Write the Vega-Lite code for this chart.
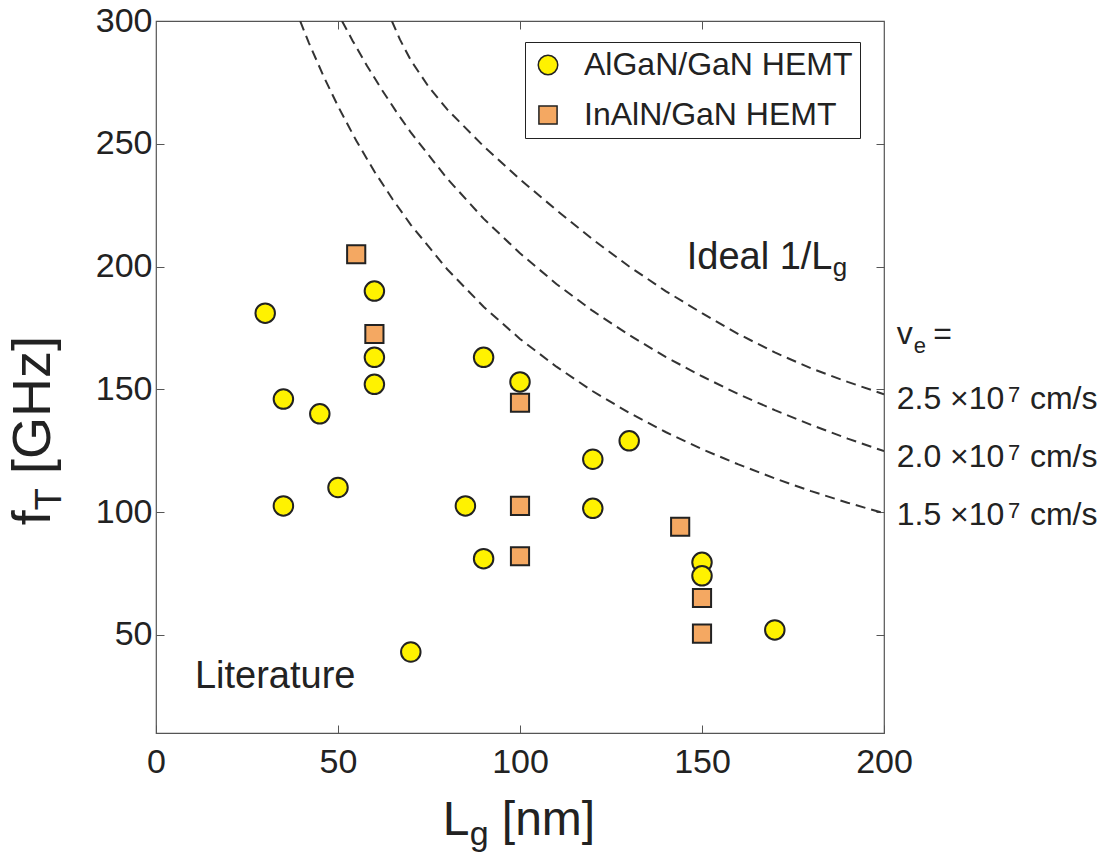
{
  "$schema": "https://vega.github.io/schema/vega-lite/v6.json",
  "width": 728,
  "height": 712,
  "autosize": {"type": "none"},
  "padding": {"left": 156, "top": 21, "right": 220, "bottom": 128},
  "background": "white",
  "config": {
    "font": "Liberation Sans",
    "view": {"stroke": "#555", "strokeWidth": 1.2},
    "axis": {"grid": false, "domain": false, "tickColor": "#555", "tickSize": -8, "tickWidth": 1, "labelFont": "Liberation Sans", "labelFontSize": 34, "labelColor": "#222", "title": null, "labelFlush": false, "labelOverlap": false, "labelBound": false}
  },
  "datasets": {
    "points": [
      {"Lg": 30, "fT": 181, "type": "AlGaN/GaN HEMT"},
      {"Lg": 60, "fT": 190, "type": "AlGaN/GaN HEMT"},
      {"Lg": 60, "fT": 163, "type": "AlGaN/GaN HEMT"},
      {"Lg": 60, "fT": 152, "type": "AlGaN/GaN HEMT"},
      {"Lg": 35, "fT": 146, "type": "AlGaN/GaN HEMT"},
      {"Lg": 45, "fT": 140, "type": "AlGaN/GaN HEMT"},
      {"Lg": 90, "fT": 163, "type": "AlGaN/GaN HEMT"},
      {"Lg": 100, "fT": 153, "type": "AlGaN/GaN HEMT"},
      {"Lg": 50, "fT": 110, "type": "AlGaN/GaN HEMT"},
      {"Lg": 35, "fT": 102.5, "type": "AlGaN/GaN HEMT"},
      {"Lg": 85, "fT": 102.5, "type": "AlGaN/GaN HEMT"},
      {"Lg": 130, "fT": 129, "type": "AlGaN/GaN HEMT"},
      {"Lg": 120, "fT": 121.5, "type": "AlGaN/GaN HEMT"},
      {"Lg": 120, "fT": 101.5, "type": "AlGaN/GaN HEMT"},
      {"Lg": 90, "fT": 81, "type": "AlGaN/GaN HEMT"},
      {"Lg": 150, "fT": 79.5, "type": "AlGaN/GaN HEMT"},
      {"Lg": 150, "fT": 74, "type": "AlGaN/GaN HEMT"},
      {"Lg": 170, "fT": 52, "type": "AlGaN/GaN HEMT"},
      {"Lg": 70, "fT": 43, "type": "AlGaN/GaN HEMT"},
      {"Lg": 55, "fT": 205, "type": "InAlN/GaN HEMT"},
      {"Lg": 60, "fT": 172.5, "type": "InAlN/GaN HEMT"},
      {"Lg": 100, "fT": 144.5, "type": "InAlN/GaN HEMT"},
      {"Lg": 100, "fT": 102.5, "type": "InAlN/GaN HEMT"},
      {"Lg": 100, "fT": 82, "type": "InAlN/GaN HEMT"},
      {"Lg": 144, "fT": 94, "type": "InAlN/GaN HEMT"},
      {"Lg": 150, "fT": 65, "type": "InAlN/GaN HEMT"},
      {"Lg": 150, "fT": 50.5, "type": "InAlN/GaN HEMT"}
    ],
    "curves": [
      {"Lg": 39.6, "fT": 300, "ve": "1.5"},
      {"Lg": 42, "fT": 291.1, "ve": "1.5"},
      {"Lg": 46, "fT": 277.6, "ve": "1.5"},
      {"Lg": 50, "fT": 265.3, "ve": "1.5"},
      {"Lg": 55, "fT": 251.3, "ve": "1.5"},
      {"Lg": 60, "fT": 238.7, "ve": "1.5"},
      {"Lg": 65, "fT": 227.4, "ve": "1.5"},
      {"Lg": 70, "fT": 217.0, "ve": "1.5"},
      {"Lg": 80, "fT": 198.9, "ve": "1.5"},
      {"Lg": 90, "fT": 183.6, "ve": "1.5"},
      {"Lg": 100, "fT": 170.5, "ve": "1.5"},
      {"Lg": 110, "fT": 159.2, "ve": "1.5"},
      {"Lg": 120, "fT": 149.2, "ve": "1.5"},
      {"Lg": 130, "fT": 140.4, "ve": "1.5"},
      {"Lg": 140, "fT": 132.6, "ve": "1.5"},
      {"Lg": 150, "fT": 125.6, "ve": "1.5"},
      {"Lg": 160, "fT": 119.4, "ve": "1.5"},
      {"Lg": 170, "fT": 113.7, "ve": "1.5"},
      {"Lg": 180, "fT": 108.5, "ve": "1.5"},
      {"Lg": 190, "fT": 103.8, "ve": "1.5"},
      {"Lg": 200, "fT": 99.5, "ve": "1.5"},
      {"Lg": 51.1, "fT": 300, "ve": "2.0"},
      {"Lg": 54, "fT": 292.0, "ve": "2.0"},
      {"Lg": 58, "fT": 281.7, "ve": "2.0"},
      {"Lg": 62, "fT": 272.1, "ve": "2.0"},
      {"Lg": 66, "fT": 263.1, "ve": "2.0"},
      {"Lg": 70, "fT": 254.6, "ve": "2.0"},
      {"Lg": 80, "fT": 235.8, "ve": "2.0"},
      {"Lg": 90, "fT": 219.5, "ve": "2.0"},
      {"Lg": 100, "fT": 205.4, "ve": "2.0"},
      {"Lg": 110, "fT": 192.9, "ve": "2.0"},
      {"Lg": 120, "fT": 181.9, "ve": "2.0"},
      {"Lg": 130, "fT": 172.1, "ve": "2.0"},
      {"Lg": 140, "fT": 163.2, "ve": "2.0"},
      {"Lg": 150, "fT": 155.3, "ve": "2.0"},
      {"Lg": 160, "fT": 148.0, "ve": "2.0"},
      {"Lg": 170, "fT": 141.5, "ve": "2.0"},
      {"Lg": 180, "fT": 135.5, "ve": "2.0"},
      {"Lg": 190, "fT": 129.9, "ve": "2.0"},
      {"Lg": 200, "fT": 124.8, "ve": "2.0"},
      {"Lg": 64.8, "fT": 300, "ve": "2.5"},
      {"Lg": 67, "fT": 292.5, "ve": "2.5"},
      {"Lg": 70, "fT": 284, "ve": "2.5"},
      {"Lg": 75, "fT": 273, "ve": "2.5"},
      {"Lg": 80, "fT": 264, "ve": "2.5"},
      {"Lg": 90, "fT": 249, "ve": "2.5"},
      {"Lg": 100, "fT": 235.5, "ve": "2.5"},
      {"Lg": 110, "fT": 223, "ve": "2.5"},
      {"Lg": 120, "fT": 211, "ve": "2.5"},
      {"Lg": 130, "fT": 200, "ve": "2.5"},
      {"Lg": 140, "fT": 190, "ve": "2.5"},
      {"Lg": 150, "fT": 181, "ve": "2.5"},
      {"Lg": 160, "fT": 172.5, "ve": "2.5"},
      {"Lg": 170, "fT": 165, "ve": "2.5"},
      {"Lg": 180, "fT": 158.5, "ve": "2.5"},
      {"Lg": 190, "fT": 153, "ve": "2.5"},
      {"Lg": 200, "fT": 148, "ve": "2.5"}
    ]
  },
  "layer": [
    {
      "data": {"name": "curves"},
      "mark": {"type": "line", "strokeDash": [10, 6], "strokeWidth": 2, "color": "#333", "clip": true},
      "encoding": {
        "x": {"field": "Lg", "type": "quantitative", "scale": {"domain": [0, 200], "nice": false, "zero": false}, "axis": {"orient": "top", "values": [50, 100, 150], "labels": false}},
        "y": {"field": "fT", "type": "quantitative", "scale": {"domain": [10, 300], "nice": false, "zero": false}, "axis": {"orient": "right", "values": [50, 100, 150, 200, 250], "labels": false}},
        "detail": {"field": "ve"},
        "order": {"field": "Lg", "type": "quantitative"}
      }
    },
    {
      "data": {"name": "points"},
      "mark": {"type": "point", "filled": true, "opacity": 1, "stroke": "#222", "strokeWidth": 2},
      "encoding": {
        "x": {"field": "Lg", "type": "quantitative", "scale": {"domain": [0, 200], "nice": false, "zero": false}, "axis": {"orient": "bottom", "values": [0, 50, 100, 150, 200], "labelPadding": 20}},
        "y": {"field": "fT", "type": "quantitative", "scale": {"domain": [10, 300], "nice": false, "zero": false}, "axis": {"orient": "left", "values": [50, 100, 150, 200, 250, 300], "labelPadding": 12}},
        "color": {"field": "type", "type": "nominal", "scale": {"domain": ["AlGaN/GaN HEMT", "InAlN/GaN HEMT"], "range": ["#FFF200", "#F4A862"]},
          "legend": {"orient": "none", "legendX": 369, "legendY": 21, "title": null, "strokeColor": "#222", "fillColor": "white", "padding": 7, "labelFont": "Liberation Sans", "labelFontSize": 32, "labelLimit": 500, "labelColor": "#222", "symbolSize": 260, "symbolStrokeColor": "#222", "symbolStrokeWidth": 1.5, "labelOffset": 20, "rowPadding": 18}},
        "shape": {"field": "type", "type": "nominal", "scale": {"domain": ["AlGaN/GaN HEMT", "InAlN/GaN HEMT"], "range": ["circle", "square"]},
          "legend": {"orient": "none", "legendX": 369, "legendY": 21, "title": null, "strokeColor": "#222", "fillColor": "white", "padding": 7, "labelFont": "Liberation Sans", "labelFontSize": 32, "labelLimit": 500, "labelColor": "#222", "symbolSize": 260, "symbolStrokeColor": "#222", "symbolStrokeWidth": 1.5, "labelOffset": 20, "rowPadding": 18}},
        "size": {"field": "type", "type": "nominal", "scale": {"domain": ["AlGaN/GaN HEMT", "InAlN/GaN HEMT"], "range": [380, 330]}, "legend": null}
      }
    },
    {
      "data": {"values": [
        {"label": "Literature", "Lg": 10.7, "fT": 28.2},
        {"label": "Ideal 1/L", "Lg": 145.8, "fT": 199.1}
      ]},
      "mark": {"type": "text", "align": "left", "baseline": "alphabetic", "fontSize": 38, "color": "#222"},
      "encoding": {
        "x": {"field": "Lg", "type": "quantitative", "scale": {"domain": [0, 200], "nice": false, "zero": false}, "axis": null},
        "y": {"field": "fT", "type": "quantitative", "scale": {"domain": [10, 300], "nice": false, "zero": false}, "axis": null},
        "text": {"field": "label"}
      }
    },
    {
      "data": {"values": [
        {"label": "g", "Lg": 185.9, "fT": 196.3}
      ]},
      "mark": {"type": "text", "align": "left", "baseline": "alphabetic", "fontSize": 26, "color": "#222"},
      "encoding": {
        "x": {"field": "Lg", "type": "quantitative", "scale": {"domain": [0, 200], "nice": false, "zero": false}, "axis": null},
        "y": {"field": "fT", "type": "quantitative", "scale": {"domain": [10, 300], "nice": false, "zero": false}, "axis": null},
        "text": {"field": "label"}
      }
    },
    {
      "data": {"values": [
        {"label": "v", "Lg": 203.5, "fT": 168.6},
        {"label": "=", "Lg": 213.5, "fT": 168.6},
        {"label": "2.5 ×10", "Lg": 203.5, "fT": 142.1},
        {"label": "2.0 ×10", "Lg": 203.5, "fT": 118.3},
        {"label": "1.5 ×10", "Lg": 203.5, "fT": 94.6},
        {"label": "cm/s", "Lg": 240.1, "fT": 142.1},
        {"label": "cm/s", "Lg": 240.1, "fT": 118.3},
        {"label": "cm/s", "Lg": 240.1, "fT": 94.6}
      ]},
      "mark": {"type": "text", "align": "left", "baseline": "alphabetic", "fontSize": 32, "color": "#222"},
      "encoding": {
        "x": {"field": "Lg", "type": "quantitative", "scale": {"domain": [0, 200], "nice": false, "zero": false}, "axis": null},
        "y": {"field": "fT", "type": "quantitative", "scale": {"domain": [10, 300], "nice": false, "zero": false}, "axis": null},
        "text": {"field": "label"}
      }
    },
    {
      "data": {"values": [
        {"label": "e", "Lg": 208.2, "fT": 164.6},
        {"label": "7", "Lg": 234.1, "fT": 145.0},
        {"label": "7", "Lg": 234.1, "fT": 121.2},
        {"label": "7", "Lg": 234.1, "fT": 97.5}
      ]},
      "mark": {"type": "text", "align": "left", "baseline": "alphabetic", "fontSize": 22, "color": "#222"},
      "encoding": {
        "x": {"field": "Lg", "type": "quantitative", "scale": {"domain": [0, 200], "nice": false, "zero": false}, "axis": null},
        "y": {"field": "fT", "type": "quantitative", "scale": {"domain": [10, 300], "nice": false, "zero": false}, "axis": null},
        "text": {"field": "label"}
      }
    },
    {
      "data": {"values": [
        {"label": "L", "Lg": 78.8, "fT": -31.7},
        {"label": "[nm]", "Lg": 95.0, "fT": -31.7}
      ]},
      "mark": {"type": "text", "align": "left", "baseline": "alphabetic", "fontSize": 48, "color": "#222"},
      "encoding": {
        "x": {"field": "Lg", "type": "quantitative", "scale": {"domain": [0, 200], "nice": false, "zero": false}, "axis": null},
        "y": {"field": "fT", "type": "quantitative", "scale": {"domain": [10, 300], "nice": false, "zero": false}, "axis": null},
        "text": {"field": "label"}
      }
    },
    {
      "data": {"values": [
        {"label": "g", "Lg": 86.2, "fT": -35.8}
      ]},
      "mark": {"type": "text", "align": "left", "baseline": "alphabetic", "fontSize": 34, "color": "#222"},
      "encoding": {
        "x": {"field": "Lg", "type": "quantitative", "scale": {"domain": [0, 200], "nice": false, "zero": false}, "axis": null},
        "y": {"field": "fT", "type": "quantitative", "scale": {"domain": [10, 300], "nice": false, "zero": false}, "axis": null},
        "text": {"field": "label"}
      }
    },
    {
      "data": {"values": [
        {"label": "f", "Lg": -29.1, "fT": 94.6},
        {"label": "[GHz]", "Lg": -29.1, "fT": 115.5}
      ]},
      "mark": {"type": "text", "align": "left", "baseline": "alphabetic", "fontSize": 54, "angle": 270, "color": "#222"},
      "encoding": {
        "x": {"field": "Lg", "type": "quantitative", "scale": {"domain": [0, 200], "nice": false, "zero": false}, "axis": null},
        "y": {"field": "fT", "type": "quantitative", "scale": {"domain": [10, 300], "nice": false, "zero": false}, "axis": null},
        "text": {"field": "label"}
      }
    },
    {
      "data": {"values": [
        {"label": "T", "Lg": -26.2, "fT": 100.7}
      ]},
      "mark": {"type": "text", "align": "left", "baseline": "alphabetic", "fontSize": 36, "angle": 270, "color": "#222"},
      "encoding": {
        "x": {"field": "Lg", "type": "quantitative", "scale": {"domain": [0, 200], "nice": false, "zero": false}, "axis": null},
        "y": {"field": "fT", "type": "quantitative", "scale": {"domain": [10, 300], "nice": false, "zero": false}, "axis": null},
        "text": {"field": "label"}
      }
    }
  ],
  "resolve": {"axis": {"x": "independent", "y": "independent"}}
}
